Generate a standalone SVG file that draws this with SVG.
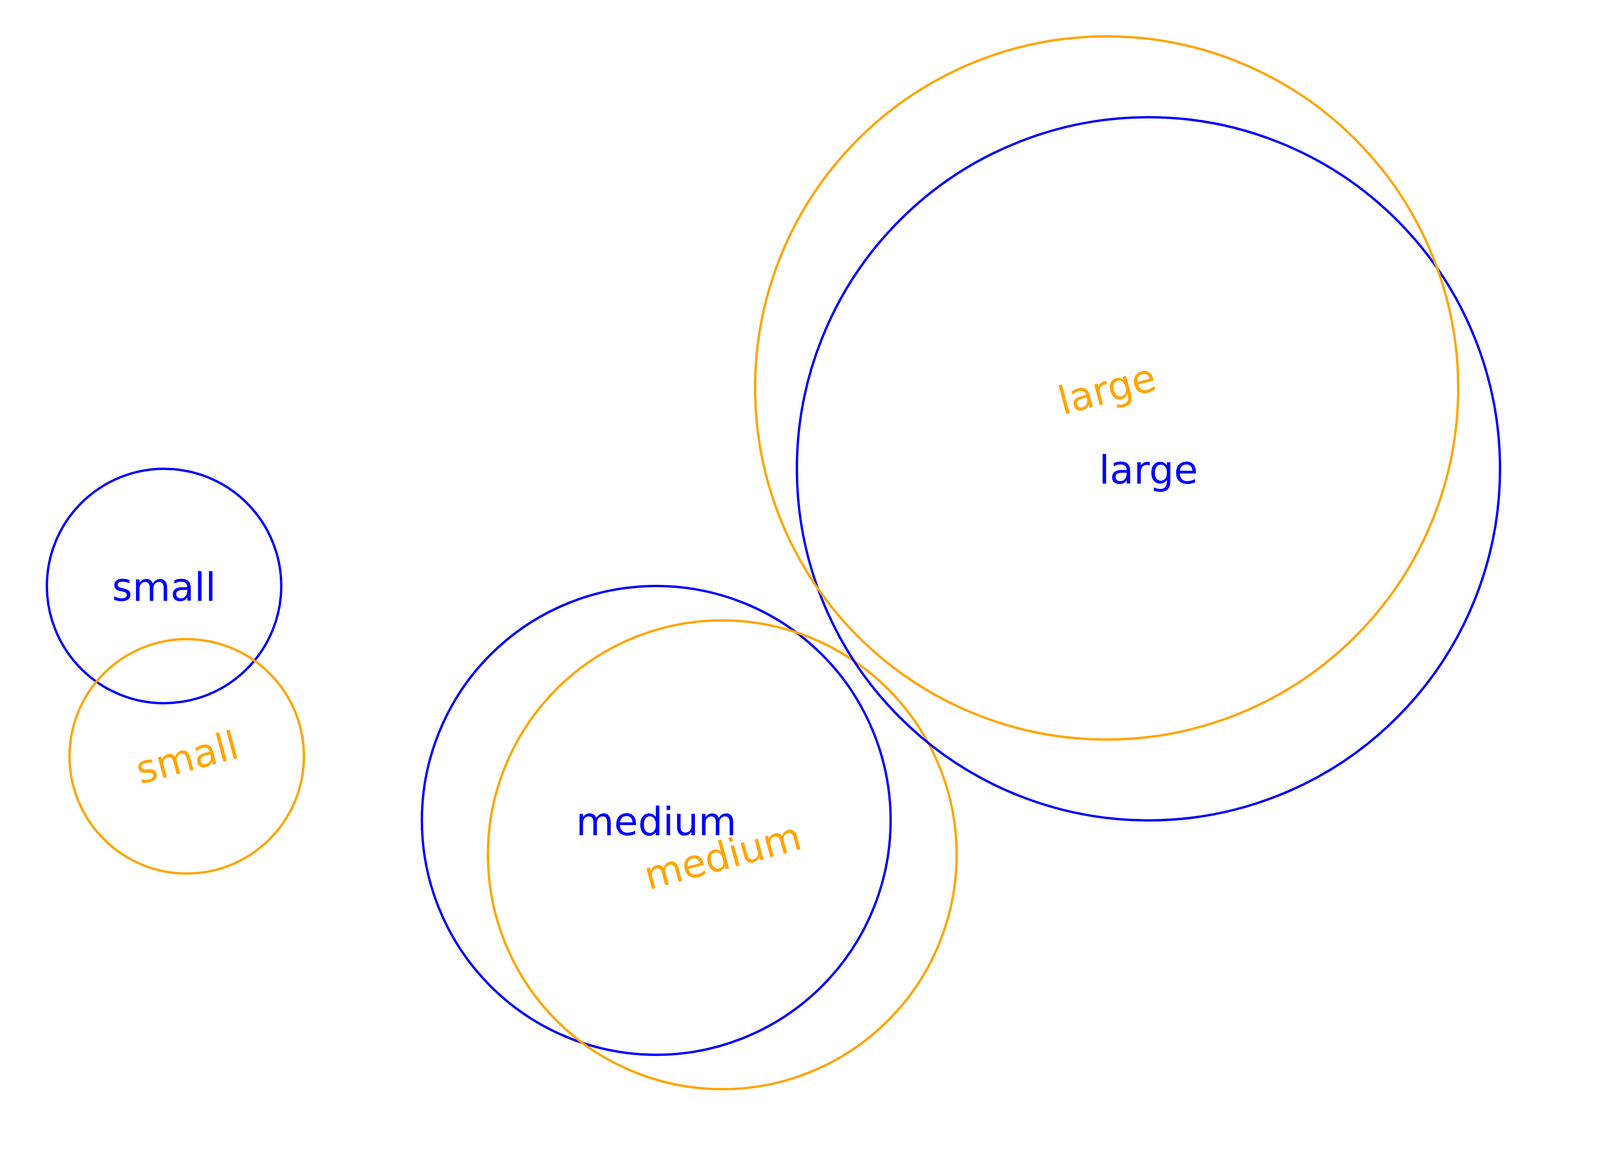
<svg xmlns="http://www.w3.org/2000/svg" width="4200" height="3000" viewBox="0 0 4200 3000">
<style>
  .c { fill: none; stroke-width: 6; }
  .b { stroke: #0000ff; }
  .o { stroke: #ffa500; }
  text { font-family: "DejaVu Sans", "Liberation Sans", sans-serif; font-size: 100px; text-anchor: middle; }
  .tb { fill: #0000ff; }
  .to { fill: #ffa500; }
</style>
<rect x="0" y="0" width="4200" height="3000" fill="#ffffff"/>
<g id="blue-small">
  <circle class="c b" cx="420" cy="1500" r="300"/>
  <text class="tb" x="420" y="1538">small</text>
</g>
<g id="orange-small">
  <circle class="c o" cx="478" cy="1936" r="300"/>
  <text class="to" x="478" y="1974" transform="rotate(-15 478 1936)">small</text>
</g>
<g id="blue-medium">
  <circle class="c b" cx="1680" cy="2100" r="600"/>
  <text class="tb" x="1680" y="2138">medium</text>
</g>
<g id="orange-medium">
  <circle class="c o" cx="1849" cy="2188" r="600"/>
  <text class="to" x="1849" y="2226" transform="rotate(-15 1849 2188)">medium</text>
</g>
<g id="blue-large">
  <circle class="c b" cx="2940" cy="1200" r="900"/>
  <text class="tb" x="2940" y="1238">large</text>
</g>
<g id="orange-large">
  <circle class="c o" cx="2833" cy="993" r="900"/>
  <text class="to" x="2833" y="1031" transform="rotate(-15 2833 993)">large</text>
</g>
<g id="connectors"></g>
</svg>
